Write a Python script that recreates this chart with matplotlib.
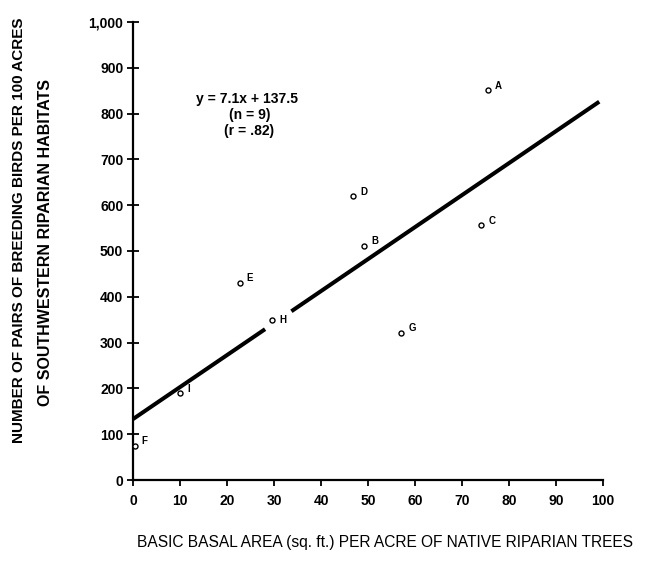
import numpy as np
import matplotlib
matplotlib.use('Agg')
import matplotlib.pyplot as plt

plt.rcParams['font.family'] = ['Liberation Sans', 'DejaVu Sans']

# habitat sites
site_labels = ['A', 'B', 'C', 'D', 'E', 'F', 'G', 'H', 'I']
basal_area = [75.5, 49.2, 74.1, 46.8, 22.7, 0.4, 57.1, 29.6, 10.1]
bird_pairs = [851, 512, 556, 620, 431, 75, 322, 350, 190]

# regression line as drawn (intercept at x=0, end point), gap near H
fit_start = (0, 133)
fit_end = (99.2, 826)
fit_gap = (28.1, 33.7)

equation_lines = ['y = 7.1x + 137.5', '(n = 9)', '(r = .82)']

x_ticks = list(range(0, 101, 10))
y_ticks = list(range(0, 1001, 100))
y_tick_labels = ['0', '100', '200', '300', '400', '500', '600', '700', '800', '900', '1,000']

fig = plt.figure(figsize=(6.57, 5.75), dpi=100)
ax = fig.add_axes([133/657, 95/575, 470/657, 458/575])

# regression line, broken around the H label
slope = (fit_end[1] - fit_start[1]) / (fit_end[0] - fit_start[0])
seg1 = np.array([fit_start[0], fit_gap[0]])
seg2 = np.array([fit_gap[1], fit_end[0]])
for seg in (seg1, seg2):
    ax.plot(seg, fit_start[1] + slope * (seg - fit_start[0]), color='black',
            linewidth=2.9, solid_capstyle='butt', clip_on=False)

ax.plot(basal_area, bird_pairs, 'o', markersize=3.6, markerfacecolor='white',
        markeredgecolor='black', markeredgewidth=1.0, clip_on=False, zorder=3)

for lab, x, y in zip(site_labels, basal_area, bird_pairs):
    dy = 0 if lab == 'H' else 3
    ax.annotate(lab, (x, y), xytext=(5, dy), textcoords='offset points',
                fontsize=7, fontweight='bold', va='center', ha='left')

ax.text(13.5, 832, equation_lines[0], fontsize=10, fontweight='bold', va='center', ha='left')
ax.text(24.8, 797, equation_lines[1], fontsize=10, fontweight='bold', va='center', ha='center')
ax.text(24.8, 763, equation_lines[2], fontsize=10, fontweight='bold', va='center', ha='center')

ax.set_xlim(0, 100)
ax.set_ylim(0, 1000)
ax.set_xticks(x_ticks)
ax.set_yticks(y_ticks)
ax.set_yticklabels(y_tick_labels)

for side in ['top', 'right']:
    ax.spines[side].set_visible(False)
for side in ['left', 'bottom']:
    ax.spines[side].set_linewidth(1.6)

ax.tick_params(axis='y', direction='inout', length=8, width=1.3, labelsize=10, pad=3)
ax.tick_params(axis='x', direction='out', length=4, width=1.3, labelsize=10, pad=6)
for t in ax.get_xticklabels() + ax.get_yticklabels():
    t.set_fontweight('bold')

fig.text(19/657, 1 - 230/575, 'NUMBER OF PAIRS OF BREEDING BIRDS PER 100 ACRES',
         rotation=90, fontsize=11, fontweight='bold', ha='center', va='center')
fig.text(46/657, 1 - 242/575, 'OF SOUTHWESTERN RIPARIAN HABITATS',
         rotation=90, fontsize=11.5, fontweight='bold', ha='center', va='center')
fig.text(385/657, 1 - 543/575, 'BASIC BASAL AREA (sq. ft.) PER ACRE OF NATIVE RIPARIAN TREES',
         fontsize=11.2, ha='center', va='center')

plt.savefig('out.png', dpi=100)
